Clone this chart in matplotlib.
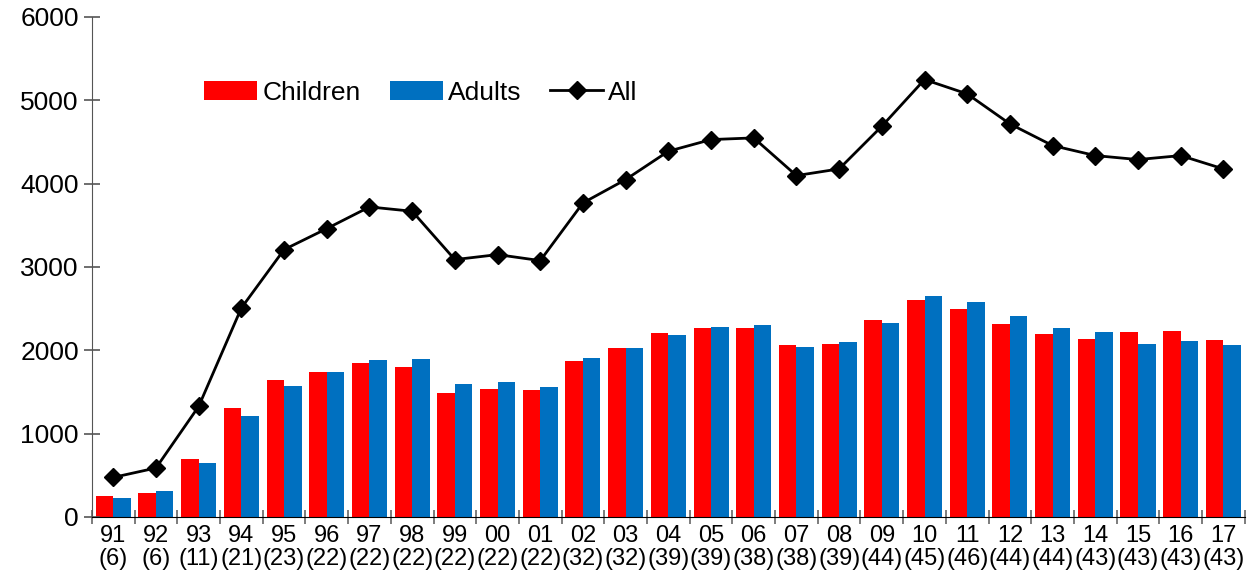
import matplotlib
matplotlib.use('Agg')
import matplotlib.pyplot as plt
import numpy as np

plt.rcParams['font.family'] = ['Liberation Sans', 'DejaVu Sans']

# data
years = ['91', '92', '93', '94', '95', '96', '97', '98', '99', '00', '01', '02', '03', '04',
         '05', '06', '07', '08', '09', '10', '11', '12', '13', '14', '15', '16', '17']
counts = [6, 6, 11, 21, 23, 22, 22, 22, 22, 22, 22, 32, 32, 39,
          39, 38, 38, 39, 44, 45, 46, 44, 44, 43, 43, 43, 43]
children = [250, 292, 696, 1303, 1644, 1735, 1843, 1795, 1492, 1536, 1520, 1868, 2028, 2212,
            2268, 2264, 2060, 2080, 2364, 2604, 2496, 2320, 2192, 2132, 2220, 2232, 2124]
adults = [230, 312, 648, 1216, 1572, 1735, 1888, 1896, 1596, 1616, 1560, 1908, 2028, 2188,
          2276, 2304, 2040, 2104, 2328, 2648, 2584, 2408, 2268, 2220, 2072, 2112, 2060]
all_ = [475, 588, 1327, 2508, 3208, 3460, 3720, 3668, 3088, 3148, 3076, 3768, 4048, 4388,
        4528, 4548, 4096, 4176, 4688, 5248, 5076, 4716, 4456, 4336, 4288, 4336, 4176]

x = np.arange(len(years))
w = 0.41

fig = plt.figure(figsize=(12.51, 5.82), dpi=100)
ax = fig.add_axes([0.0735, 0.1117, 0.9215, 0.8593])

b1 = ax.bar(x - w / 2, children, width=w, color='#FF0000', label='Children')
b2 = ax.bar(x + w / 2, adults, width=w, color='#0070C0', label='Adults')
l1, = ax.plot(x, all_, color='black', lw=2, marker='D', ms=9, label='All')

ax.set_xlim(-0.5, len(years) - 0.5)
ax.set_ylim(0, 6000)
ax.set_yticks(np.arange(0, 6001, 1000))

# ticks between categories, labels at the centres
ax.set_xticks(np.arange(-0.5, len(years), 1))
ax.set_xticklabels([])
ax.set_xticks(x, minor=True)
ax.set_xticklabels([f'{y}\n({c})' for y, c in zip(years, counts)], minor=True, fontsize=17,
                   linespacing=1.05)
ax.tick_params(axis='x', which='minor', length=0, pad=6)
ax.tick_params(axis='x', which='major', direction='inout', length=10, color='#666666', width=1.2)
ax.tick_params(axis='y', direction='inout', length=11, color='#555555', width=1.2,
               labelsize=19, pad=4)

ax.spines['top'].set_visible(False)
ax.spines['right'].set_visible(False)
ax.spines['left'].set_color('#555555')
ax.spines['bottom'].set_color('black')
ax.spines['bottom'].set_zorder(3)

ax.legend([b1, b2, l1], ['Children', 'Adults', 'All'], loc='upper left',
          bbox_to_anchor=(0.077, 0.92), ncol=3, frameon=False, fontsize=19,
          handlelength=2.0, handletextpad=0.2, columnspacing=1.1)

fig.savefig('out.png', dpi=100)
